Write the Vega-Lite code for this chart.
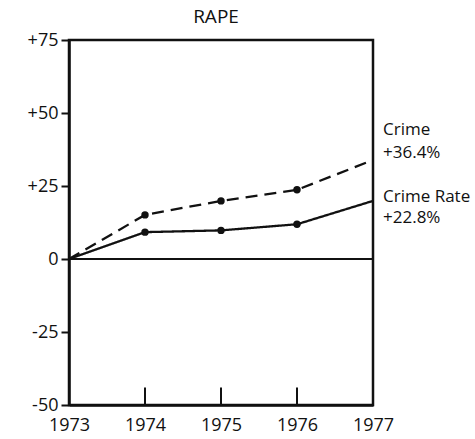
{
  "$schema": "https://vega.github.io/schema/vega-lite/v6.json",
  "autosize": {"type": "none"},
  "padding": {"left": 69, "top": 40, "right": 102, "bottom": 34},
  "width": 304,
  "height": 365,
  "background": "white",
  "title": {"text": "RAPE", "font": "Open Sans", "fontSize": 19, "fontWeight": "normal", "color": "#111", "offset": 4, "anchor": "middle", "dx": -5},
  "config": {
    "view": {"stroke": "#111", "strokeWidth": 2.5},
    "axis": {"grid": false, "domainColor": "#111", "domainWidth": 2.5, "tickColor": "#111", "tickWidth": 2, "labelFont": "Open Sans", "labelFontSize": 18, "labelColor": "#111", "title": null}
  },
  "datasets": {
    "series": [
      {"series": "Crime", "year": 1973, "value": 0},
      {"series": "Crime", "year": 1974, "value": 15.1},
      {"series": "Crime", "year": 1975, "value": 19.9},
      {"series": "Crime", "year": 1976, "value": 23.7},
      {"series": "Crime", "year": 1977, "value": 33.9},
      {"series": "Crime Rate", "year": 1973, "value": 0},
      {"series": "Crime Rate", "year": 1974, "value": 9.2},
      {"series": "Crime Rate", "year": 1975, "value": 9.8},
      {"series": "Crime Rate", "year": 1976, "value": 11.9},
      {"series": "Crime Rate", "year": 1977, "value": 19.9}
    ],
    "labels": [
      {"label": "Crime", "year": 1977, "pos": 44.2},
      {"label": "+36.4%", "year": 1977, "pos": 36.3},
      {"label": "Crime Rate", "year": 1977, "pos": 21.2},
      {"label": "+22.8%", "year": 1977, "pos": 14.0}
    ],
    "ticks": [
      {"year": 1973, "lo": -50, "hi": -44},
      {"year": 1974, "lo": -50, "hi": -44},
      {"year": 1975, "lo": -50, "hi": -44},
      {"year": 1976, "lo": -50, "hi": -44}
    ],
    "zero": [{"z": 0}]
  },
  "layer": [
    {
      "data": {"name": "zero"},
      "mark": {"type": "rule", "color": "#111", "strokeWidth": 2},
      "encoding": {"y": {"field": "z", "type": "quantitative", "scale": {"domain": [-50, 75], "nice": false}}}
    },
    {
      "data": {"name": "ticks"},
      "mark": {"type": "rule", "color": "#111", "strokeWidth": 2},
      "encoding": {
        "x": {"field": "year", "type": "quantitative", "scale": {"domain": [1973, 1977], "nice": false, "zero": false}},
        "y": {"field": "lo", "type": "quantitative"},
        "y2": {"field": "hi"}
      }
    },
    {
      "data": {"name": "series"},
      "mark": {"type": "line", "color": "#111", "strokeWidth": 2.3},
      "encoding": {
        "x": {"field": "year", "type": "quantitative", "scale": {"domain": [1973, 1977], "nice": false, "zero": false},
              "axis": {"values": [1973, 1974, 1975, 1976, 1977], "format": "d", "ticks": false, "tickSize": 0, "labelPadding": 11, "labelFlush": false}},
        "y": {"field": "value", "type": "quantitative", "scale": {"domain": [-50, 75], "nice": false},
              "axis": {"values": [-50, -25, 0, 25, 50, 75], "tickSize": 8, "labelPadding": 3, "labelBaseline": "middle",
                       "labelExpr": "datum.value > 0 ? '+' + datum.value : (datum.value < 0 ? '-' + abs(datum.value) : '0')"}},
        "detail": {"field": "series", "type": "nominal"},
        "strokeDash": {"field": "series", "type": "nominal", "scale": {"domain": ["Crime", "Crime Rate"], "range": [[12, 7], [1, 0]]}, "legend": null}
      }
    },
    {
      "data": {"name": "series"},
      "transform": [{"filter": "datum.year > 1973 && datum.year < 1977"}],
      "mark": {"type": "point", "filled": true, "color": "#111", "size": 55, "opacity": 1},
      "encoding": {
        "x": {"field": "year", "type": "quantitative"},
        "y": {"field": "value", "type": "quantitative"}
      }
    },
    {
      "data": {"name": "labels"},
      "mark": {"type": "text", "align": "left", "baseline": "middle", "dx": 10, "font": "Open Sans", "fontSize": 17, "color": "#111"},
      "encoding": {
        "x": {"field": "year", "type": "quantitative"},
        "y": {"field": "pos", "type": "quantitative"},
        "text": {"field": "label"}
      }
    }
  ]
}
